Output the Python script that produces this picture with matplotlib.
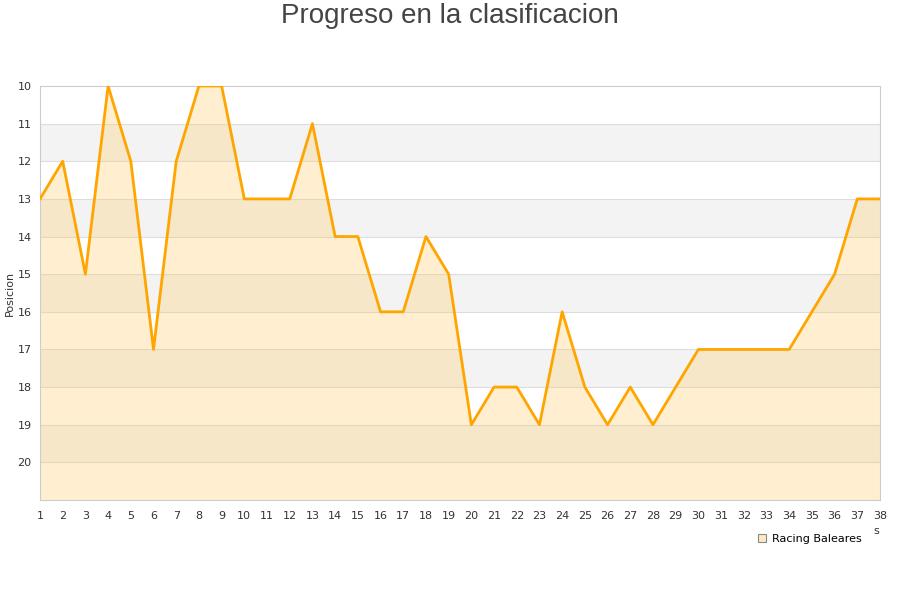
import matplotlib
matplotlib.use("Agg")
import matplotlib.pyplot as plt
from matplotlib.lines import Line2D

jornadas = list(range(1, 39))
posiciones = [13, 12, 15, 10, 12, 17, 12, 10, 10, 13, 13, 13, 11, 14, 14, 16, 16, 14, 15, 19,
              18, 18, 19, 16, 18, 19, 18, 19, 18, 17, 17, 17, 17, 17, 16, 15, 13, 13]
yticks = list(range(10, 21))
team = "Racing Baleares"
title = "Progreso en la clasificacion"
ylabel = "Posicion"

fig = plt.figure(figsize=(9, 6), dpi=100)
ax = fig.add_axes([40/900, 1 - 500/600, 840/900, 414/600])

# alternating bands
for k in range(10, 21):
    if k % 2 == 1:
        ax.axhspan(k, k + 1, color="#f3f3f3", zorder=0, lw=0)
for k in range(11, 21):
    ax.axhline(k, color="#dddddd", lw=0.8, zorder=1)

ax.fill_between(jornadas, posiciones, 21, color="#ffcc66", alpha=0.3, lw=0, zorder=2)
ax.plot(jornadas, posiciones, color="#ffa500", lw=2, zorder=3)

ax.set_xlim(1, 38)
ax.set_ylim(21, 10)
ax.set_xticks(jornadas)
ax.set_yticks(yticks)
ax.tick_params(axis="both", labelsize=8, colors="#333333", length=0, pad=6)
ax.tick_params(axis="x", pad=8)
for s in ax.spines.values():
    s.set_color("#cccccc")
    s.set_linewidth(0.8)
ax.set_ylabel(ylabel, fontsize=8, color="#333333", labelpad=2)

fig.text(0.5, 1 - 16/600, title, ha="center", va="center", fontsize=20,
         color="#444444", family=["Liberation Sans", "DejaVu Sans"])
fig.text(876/900, 1 - 531/600, "s", ha="center", va="center", fontsize=8, color="#333333")

handle = Line2D([], [], marker="s", linestyle="none", markersize=6,
                markerfacecolor="#ffe9c0", markeredgecolor="#888888", markeredgewidth=0.8)
fig.legend([handle], [team], loc="center left", bbox_to_anchor=(750/900, 1 - 539/600),
           frameon=False, fontsize=8, handletextpad=0.3, borderpad=0, handlelength=1.2)

fig.savefig("out.png", dpi=100)
